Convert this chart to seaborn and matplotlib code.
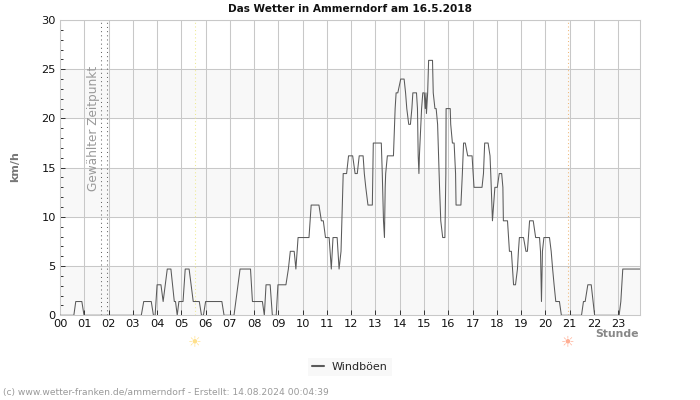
import matplotlib
matplotlib.use("Agg")
import matplotlib.pyplot as plt
import pandas as pd
import seaborn as sns
from matplotlib.ticker import MultipleLocator

# wind gusts (hour of day, km/h)
HOURS = [
    0.0, 0.57, 0.65, 0.9, 0.99, 3.35, 3.45, 3.76, 3.85, 3.92, 4.0, 4.16, 4.25, 4.42, 4.57, 4.71,
    4.76, 4.83, 4.9, 5.07, 5.16, 5.32, 5.49, 5.74, 5.83, 5.91, 6.0, 6.67, 6.76, 7.17, 7.42, 7.85,
    7.93, 8.34, 8.42, 8.49, 8.66, 8.75, 8.91, 8.98, 9.31, 9.41, 9.49, 9.65, 9.72, 9.81, 10.26,
    10.35, 10.67, 10.77, 10.85, 10.94, 11.09, 11.18, 11.25, 11.42, 11.5, 11.58, 11.67, 11.81, 11.89,
    12.06, 12.16, 12.25, 12.33, 12.49, 12.54, 12.6, 12.69, 12.87, 12.91, 13.24, 13.28, 13.33, 13.37,
    13.4, 13.42, 13.49, 13.74, 13.76, 13.81, 13.85, 13.92, 14.04, 14.18, 14.24, 14.29, 14.37, 14.44,
    14.5, 14.54, 14.69, 14.73, 14.76, 14.79, 14.81, 14.9, 14.95, 15.01, 15.05, 15.08, 15.1, 15.15,
    15.19, 15.35, 15.38, 15.45, 15.5, 15.56, 15.6, 15.64, 15.69, 15.77, 15.86, 15.9, 15.91, 16.08,
    16.1, 16.17, 16.24, 16.3, 16.32, 16.52, 16.58, 16.63, 16.7, 16.8, 16.98, 17.06, 17.39, 17.45,
    17.5, 17.64, 17.72, 17.75, 17.82, 17.92, 18.02, 18.1, 18.2, 18.25, 18.27, 18.44, 18.52, 18.6,
    18.65, 18.69, 18.77, 18.85, 18.89, 18.93, 19.1, 19.2, 19.26, 19.35, 19.5, 19.6, 19.76, 19.8,
    19.84, 19.88, 19.94, 20.17, 20.24, 20.3, 20.36, 20.43, 20.58, 20.66, 21.49, 21.57, 21.64, 21.75,
    21.89, 22.03, 23.04, 23.11, 23.19, 23.9,
]
GUSTS = [
    0, 0, 1.4, 1.4, 0, 0, 1.4, 1.4, 0, 0, 3.1, 3.1, 1.4, 4.7, 4.7, 1.4,
    1.4, 0, 1.4, 1.4, 4.7, 4.7, 1.4, 1.4, 0, 0, 1.4, 1.4, 0, 0, 4.7, 4.7,
    1.4, 1.4, 0, 3.1, 3.1, 0, 0, 3.1, 3.1, 4.7, 6.5, 6.5, 4.7, 7.9, 7.9,
    11.2, 11.2, 9.6, 9.6, 7.9, 7.9, 4.7, 7.9, 7.9, 4.7, 6.5, 14.4, 14.4, 16.2,
    16.2, 14.4, 14.4, 16.2, 16.2, 14.4, 13, 11.2, 11.2, 17.5, 17.5, 14.4, 9.6, 7.9,
    13, 14.4, 16.2, 16.2, 17.5, 21, 22.6, 22.6, 24, 24, 22.6, 21, 19.4, 19.4,
    21, 22.6, 22.6, 21, 16.2, 14.4, 16.2, 21, 22.6, 22.6, 21, 22.6, 20.5, 22.6,
    25.9, 25.9, 22.6, 21, 21, 19.4, 16.2, 13, 9.6, 7.9, 7.9, 14.4, 21, 21,
    19.4, 17.5, 17.5, 14.4, 11.2, 11.2, 14.4, 17.5, 17.5, 16.2, 16.2, 13, 13, 14.4,
    17.5, 17.5, 16.2, 14.4, 9.6, 13, 13, 14.4, 14.4, 13, 9.6, 9.6, 6.5, 6.5,
    4.7, 3.1, 3.1, 4.7, 6.5, 7.9, 7.9, 6.5, 6.5, 9.6, 9.6, 7.9, 7.9, 6.5,
    1.4, 6.5, 7.9, 7.9, 6.5, 4.7, 3.1, 1.4, 1.4, 0, 0, 1.4, 1.4, 3.1,
    3.1, 0, 0, 1.4, 4.7, 4.7,
]
Y_BANDS = [(0, 5), (10, 15), (20, 25)]
SELECTED_TIMES = [1.67, 1.92]
SUNRISE = 5.55
SUNSET = 20.93
TICK_LABELS = [f"{h:02d}" for h in range(24)]

sns.set_theme(style="white")
plt.rcParams["font.family"] = ["DejaVu Sans"]

fig = plt.figure(figsize=(7, 4), dpi=100)
ax = fig.add_axes([60 / 700, 1 - 315.3 / 400, 580 / 700, 295.3 / 400])

for low, high in Y_BANDS:
    ax.axhspan(low, high, color="#f8f8f8", lw=0, zorder=0)

ax.grid(True, which="major", color="#c8c8c8", lw=0.75)
ax.set_axisbelow(True)

df = pd.DataFrame({"Stunde": HOURS, "Windböen": GUSTS})
sns.lineplot(data=df, x="Stunde", y="Windböen", estimator=None, sort=False, color="#5a5a5a", lw=0.75, ax=ax, label="Windböen", zorder=3)

for t in SELECTED_TIMES:
    ax.axvline(t, color="#666666", lw=0.75, ls=(0, (1, 3)), zorder=2)
ax.axvline(SUNRISE, color="#eeea90", lw=0.75, ls=(0, (1, 2.5)), zorder=2)
ax.axvline(SUNSET, color="#f0b878", lw=0.75, ls=(0, (1, 2.5)), zorder=2)

ax.set_xlim(0, 23.9)
ax.set_ylim(0, 30)
ax.set_xticks(range(24))
ax.set_xticklabels(TICK_LABELS)
ax.set_yticks(range(0, 31, 5))
ax.yaxis.set_minor_locator(MultipleLocator(1))
ax.tick_params(axis="both", which="major", direction="in", length=3.5, width=0.7, color="#333333", labelsize=8.2, labelcolor="#111111", pad=3, bottom=True, left=True)
ax.tick_params(axis="y", which="minor", direction="in", length=2.5, width=0.7, color="#333333", left=True)
for side in ax.spines.values():
    side.set_color("#c8c8c8")
    side.set_linewidth(0.75)

ax.set_xlabel("")
ax.set_ylabel("")
ax.set_title("")

fig.text(349.5 / 700, 1 - 8.5 / 400, "Das Wetter in Ammerndorf am 16.5.2018", ha="center", va="center", fontsize=7.6, fontweight="bold", color="#111111")
fig.text(15 / 700, 1 - 167 / 400, "km/h", rotation=90, ha="center", va="center", fontsize=8, fontweight="bold", color="#777777")
fig.text(639 / 700, 1 - 334 / 400, "Stunde", ha="right", va="center", fontsize=7.8, fontweight="bold", color="#888888")
fig.text(93 / 700, 1 - 128 / 400, "Gewählter Zeitpunkt", rotation=90, ha="center", va="center", fontsize=8.7, color="#999999")
fig.text(3 / 700, 1 - 393 / 400, "(c) www.wetter-franken.de/ammerndorf - Erstellt: 14.08.2024 00:04:39", ha="left", va="center", fontsize=6.6, color="#999999")

# sun symbols below the axis at sunrise and sunset
ax.annotate("☀", xy=(SUNRISE, 0), xycoords=("data", "axes fraction"), xytext=(0, -19), textcoords="offset points", ha="center", va="center", fontsize=11, color="#ffe08a", annotation_clip=False)
ax.annotate("☀", xy=(SUNSET, 0), xycoords=("data", "axes fraction"), xytext=(0, -19), textcoords="offset points", ha="center", va="center", fontsize=11, color="#ffae94", annotation_clip=False)

leg = ax.legend(loc="center", bbox_to_anchor=(350 / 700, 1 - 367 / 400), bbox_transform=fig.transFigure, frameon=True, fontsize=8, handlelength=1.1, handletextpad=0.7, borderpad=0.4)
leg.get_frame().set_facecolor("#f8f8f8")
leg.get_frame().set_edgecolor("none")
leg.get_frame().set_alpha(1)
leg.get_frame().set_boxstyle("square", pad=0)
for line in leg.get_lines():
    line.set_linewidth(1.5)

fig.savefig("out.png", dpi=100)
